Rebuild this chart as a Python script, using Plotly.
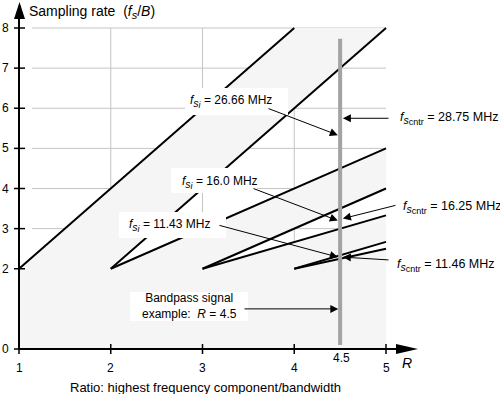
import plotly.graph_objects as go

# ---------------- data ----------------
# boundary lines of the bandpass sampling zones (start / end points, R vs fs/B)
line_x0 = [1, 2, 2, 3, 3, 4, 4]
line_y0 = [2, 2, 2, 2, 2, 2, 2]
line_x1 = [4, 5, 5, 5, 5, 5, 5]
line_y1 = [8, 8, 5, 4, 3.33, 2.67, 2.5]

# outline of the shaded (aliasing) region
shade_x = [1, 1, 4, 5, 2, 5, 5, 3, 5, 5, 4, 5, 5, 1]
shade_y = [0, 2, 8, 8, 2, 5, 4, 2, 3.33, 2.67, 2, 2.5, 0, 0]

x_ticks = [1, 2, 3, 4, 5]
x_tick_labels = ["1", "2", "3", "4", "5"]
y_ticks = [0, 2, 3, 4, 5, 6, 7, 8]
y_tick_labels = ["0", "2", "3", "4", "5", "6", "7", "8"]
grid_x = [2, 3, 4]
grid_y = [2, 3, 4, 5, 6, 7, 8]

example_R = 4.5
example_R_label = "4.5"
example_top = 7.73

fs_i_labels = ["26.66 MHz", "16.0 MHz", "11.43 MHz"]
fs_i_values = [5.33, 3.2, 2.29]
fs_cntr_labels = ["28.75 MHz", "16.25 MHz", "11.46 MHz"]
fs_cntr_values = [5.75, 3.25, 2.29]

# ---------------- layout helpers (pixel -> data) ----------------
X0, SX = 19.0, 91.75
Y0, SY = 349.0, 40.125
def dx(px):
    return 1 + (px - X0) / SX
def dy(py):
    return (Y0 - py) / SY

FONT = "Liberation Sans, Arial, Helvetica, sans-serif"
GRID = "#c4c4c4"
SHADE = "#f5f5f5"

fig = go.Figure()

# shaded region
fig.add_trace(go.Scatter(x=shade_x, y=shade_y, fill="toself", fillcolor=SHADE,
                         mode="lines", line=dict(width=0), hoverinfo="skip",
                         showlegend=False))

# zone boundary lines
bx, by = [], []
for a, b, c, d in zip(line_x0, line_y0, line_x1, line_y1):
    bx += [a, c, None]
    by += [b, d, None]
fig.add_trace(go.Scatter(x=bx, y=by, mode="lines",
                         line=dict(color="black", width=2), showlegend=False,
                         hoverinfo="skip"))

# example bar at R = 4.5
fig.add_trace(go.Scatter(x=[example_R, example_R], y=[0.1, example_top], mode="lines",
                         line=dict(color="#a3a3a3", width=4), showlegend=False,
                         hoverinfo="skip"))

shapes = []
# grid lines (below traces so shading hides them)
for gx in grid_x:
    shapes.append(dict(type="line", layer="below", x0=gx, x1=gx, y0=0, y1=8,
                       line=dict(color=GRID, width=1)))
for gy in grid_y:
    shapes.append(dict(type="line", layer="below", x0=dx(32), x1=5, y0=gy, y1=gy,
                       line=dict(color=GRID, width=1)))

# axes
shapes.append(dict(type="line", x0=1, x1=1, y0=0, y1=dy(16), layer="above",
                   line=dict(color="black", width=2)))
shapes.append(dict(type="line", x0=1, x1=dx(400), y0=0, y1=0, layer="above",
                   line=dict(color="black", width=2)))
# arrow heads of axes
shapes.append(dict(type="path", layer="above", fillcolor="black", line=dict(width=0),
                   path=f"M {dx(14)} {dy(19)} L {dx(19.5)} {dy(2)} L {dx(25)} {dy(19)} Z"))
shapes.append(dict(type="path", layer="above", fillcolor="black", line=dict(width=0),
                   path=f"M {dx(396)} {dy(344)} L {dx(418)} {dy(349)} L {dx(396)} {dy(354)} Z"))
# ticks
for t in y_ticks:
    shapes.append(dict(type="line", layer="above", x0=dx(14), x1=dx(25), y0=t, y1=t,
                       line=dict(color="black", width=1.5)))
for t in x_ticks:
    shapes.append(dict(type="line", layer="above", x0=t, x1=t, y0=dy(344), y1=dy(354),
                       line=dict(color="black", width=1.5)))

# white label boxes
boxes = [(185, 88, 288, 115), (171, 168, 257, 193), (119, 212, 226, 238),
         (130, 292, 248, 321)]
for (a, b, c, d) in boxes:
    shapes.append(dict(type="rect", layer="above", x0=dx(a), x1=dx(c), y0=dy(d), y1=dy(b),
                       fillcolor="white", line=dict(width=0)))

annotations = []
def text(px, py, s, size=12, xanchor="left", yanchor="middle", align="left"):
    annotations.append(dict(x=dx(px), y=dy(py), text=s, showarrow=False,
                            xanchor=xanchor, yanchor=yanchor, align=align,
                            font=dict(family=FONT, size=size, color="black")))

def arrow(tx, ty, hx, hy):
    annotations.append(dict(x=hx, y=hy, ax=tx, ay=ty, axref="x", ayref="y",
                            xref="x", yref="y", text="", showarrow=True,
                            arrowhead=2, arrowsize=1.6, arrowwidth=1,
                            arrowcolor="black", standoff=0, startstandoff=0))

# tick labels
for t, lab in zip(y_ticks, y_tick_labels):
    text(5.5, Y0 - t * SY, lab, size=12, xanchor="center")
for t, lab in zip(x_ticks, x_tick_labels):
    text(X0 + (t - 1) * SX, 368, lab, size=12, xanchor="center")
text(X0 + (example_R - 1) * SX + 1, 358, example_R_label, size=12, xanchor="center")
text(407, 363, "<i>R</i>", size=14, xanchor="center")

# axis titles
text(27, 12, 'Sampling rate  (<i>f</i><sub><span style="font-size:11px"><i>s</i></span></sub>/<i>B</i>)', size=14)
text(205, 387, "Ratio: highest frequency component/bandwidth", size=13, xanchor="center")

S1 = '<span style="font-size:10.5px">{}</span>'
S2 = '<span style="font-size:9px">{}</span>'
FSI = "<i>f</i><sub>" + S1.format("<i>s</i>") + "<sub>" + S2.format("<i>i</i>") + "</sub></sub> = "
FSC = "<i>f</i><sub>" + S1.format("<i>s</i>") + "<sub>" + S2.format("cntr") + "</sub></sub> = "

# fs_i labels
fsi_pos = [(188, 101), (180, 182), (127, 225)]
fsi_tails = [(267, 108), (252, 188), (218, 225)]
for lab, v, (px, py), (tx, ty) in zip(fs_i_labels, fs_i_values, fsi_pos, fsi_tails):
    text(px, py, FSI + lab, size=12)
    arrow(dx(tx), dy(ty), example_R - 0.025, v)

# fs_cntr labels
fsc_pos = [(398, 118), (401, 207), (395, 265)]
fsc_tails = [(390, None), (397, 205), (390, 260)]
for lab, v, (px, py), (tx, ty) in zip(fs_cntr_labels, fs_cntr_values, fsc_pos, fsc_tails):
    text(px, py, FSC + lab, size=12.5)
    arrow(dx(tx), v if ty is None else dy(ty), example_R + 0.03, v)

# bandpass example label
text(189, 306, "Bandpass signal<br>example:  <i>R</i> = 4.5", size=12, xanchor="center",
     align="center")
arrow(dx(243), 1.0, example_R - 0.02, 1.0)

fig.update_layout(
    width=500, height=394,
    margin=dict(l=0, r=0, t=0, b=0),
    paper_bgcolor="white", plot_bgcolor="white",
    xaxis=dict(range=[dx(0), dx(500)], visible=False, fixedrange=True),
    yaxis=dict(range=[dy(394), dy(0)], visible=False, fixedrange=True),
    shapes=shapes, annotations=annotations, showlegend=False,
)

fig.write_html("out.html", config=dict(displayModeBar=False),
               post_script="document.body.style.margin='0px';"
                           "document.body.style.overflow='hidden';")
